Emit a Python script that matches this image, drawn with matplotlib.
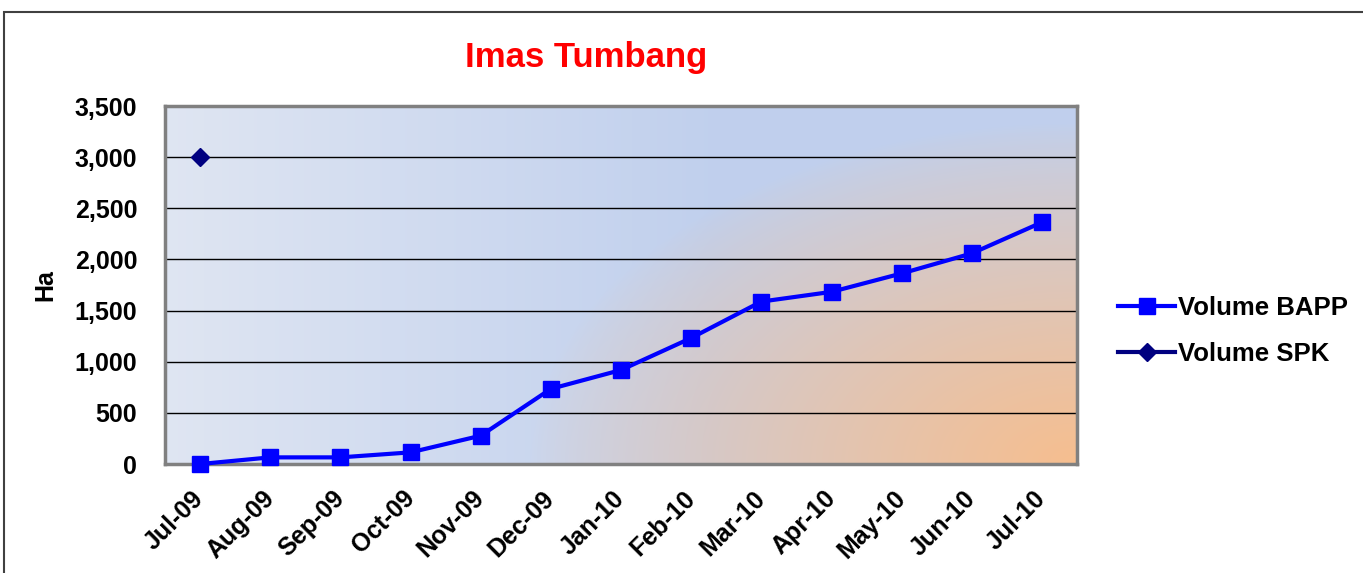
#!/usr/bin/env python3
"""Imas Tumbang - cumulative BAPP volume vs SPK volume (Ha)."""
import numpy as np
import matplotlib
matplotlib.use("Agg")
import matplotlib.pyplot as plt
from matplotlib.patches import Rectangle
from matplotlib.ticker import FuncFormatter, MultipleLocator

# Data
months = ["Jul-09", "Aug-09", "Sep-09", "Oct-09", "Nov-09", "Dec-09", "Jan-10",
          "Feb-10", "Mar-10", "Apr-10", "May-10", "Jun-10", "Jul-10"]
volume_bapp = [0, 65, 65, 114, 277, 735, 919, 1232, 1588, 1683, 1863, 2059, 2363]
volume_spk = [3000] + [np.nan] * 12

plt.rcParams['font.family'] = ['Liberation Sans', 'DejaVu Sans']
plt.rcParams['font.weight'] = 'bold'


def background_gradient(h=300, w=600):
    """Light blue on the left, blue in the middle, orange glow bottom right."""
    u = np.linspace(0, 1, w)[None, :]
    v = np.linspace(0, 1, h)[:, None]
    light = np.array([0.875, 0.900, 0.950])
    blue = np.array([0.755, 0.815, 0.930])
    orange = np.array([0.965, 0.745, 0.560])
    t = np.clip(u / 0.6, 0, 1)[..., None] * np.ones((h, 1, 1))
    img = light * (1 - t) + blue * t
    r = np.sqrt(((1 - u) / 0.6) ** 2 + ((1 - v) / 0.95) ** 2)
    wgt = np.clip(1 - r, 0, 1) ** 0.8
    img = img * (1 - wgt[..., None]) + orange * wgt[..., None]
    return img


fig = plt.figure(figsize=(13.63, 5.73), dpi=100)
ax = fig.add_axes([0.1211, 0.1902, 0.6691, 0.6248])

x = np.arange(len(months))
ax.imshow(background_gradient(), extent=[-0.5, len(months) - 0.5, 0, 3500],
          aspect='auto', zorder=0, interpolation='bilinear')

line_bapp, = ax.plot(x, volume_bapp, color='#0000FF', lw=3, marker='s',
                     markersize=12, zorder=7, clip_on=False,
                     label='Volume BAPP')
line_spk, = ax.plot(x, volume_spk, color='#000080', lw=3, marker='D',
                    markersize=9, zorder=8, clip_on=False, label='Volume SPK')

ax.set_xlim(-0.5, len(months) - 0.5)
ax.set_ylim(0, 3500)
ax.yaxis.set_major_locator(MultipleLocator(500))
ax.yaxis.set_major_formatter(FuncFormatter(lambda val, pos: f"{val:,.0f}"))
ax.grid(axis='y', color='black', lw=1, zorder=1)
ax.set_axisbelow(False)

ax.set_xticks(x)
ax.set_xticklabels(months, rotation=45, ha='right', va='center',
                   rotation_mode='anchor')
ax.tick_params(axis='both', length=0, labelsize=18)
ax.tick_params(axis='y', pad=20)
ax.tick_params(axis='x', pad=22)

for side, sp in ax.spines.items():
    sp.set_color('#808080')
    sp.set_linewidth(2.5)
    sp.set_zorder(6)

fig.text(586 / 1363, 1 - 58 / 573, "Imas Tumbang", color='#FF0000',
         fontsize=25, fontweight='bold', ha='center', va='center')
fig.text(45 / 1363, 1 - 285 / 573, "Ha", fontsize=18, fontweight='bold',
         rotation=90, ha='center', va='center')

fig.legend(handles=[line_bapp, line_spk], loc='center left',
           bbox_to_anchor=(1108 / 1363, 1 - 331 / 573), frameon=False,
           fontsize=18.5, handlelength=2.2, handletextpad=0.12,
           labelspacing=0.85, borderaxespad=0)

# outer chart frame (cut off at right and bottom in the original)
fig.add_artist(Rectangle((4 / 1363, -0.1), 1.2, 1 - 12 / 573 + 0.1,
                         transform=fig.transFigure, fill=False,
                         edgecolor='#404040', lw=1.5))

fig.savefig("out.png", dpi=100)
